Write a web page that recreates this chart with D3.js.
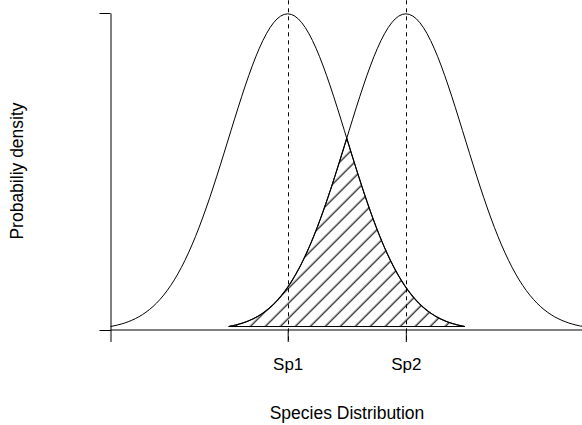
<!DOCTYPE html>
<html>
<head>
<meta charset="utf-8">
<script src="https://cdn.jsdelivr.net/npm/d3@7"></script>
<style>
  body { margin: 0; background: #fff; }
  text { font-family: "Liberation Sans", Arial, sans-serif; fill: #000; }
</style>
</head>
<body>
<div id="chart"></div>
<script>
// Chart values
let species = ["Sp1", "Sp2"];
let speciesMean = [0, 2];
let speciesSd = [1, 1];
let xTicks = [-3, 0, 2];
let xTickLabels = ["", "Sp1", "Sp2"];
let yTicks = [0, 0.4];

let w = 582;
let h = 425;

// normal density, what the curves show
let dnorm = (x, m, s) => Math.exp(-((x - m) * (x - m)) / (2 * s * s)) / (s * Math.sqrt(2 * Math.PI));

let xScale = d3.scaleLinear().domain([-3, 5]).range([110.5, 583]);
let yScale = d3.scaleLinear().domain([0, 0.4]).range([330, 13]);

let svg = d3.select("#chart").append("svg")
    .attr("width", w)
    .attr("height", h);

// hatching for the overlap
svg.append("defs").append("pattern")
    .attr("id", "hatch")
    .attr("patternUnits", "userSpaceOnUse")
    .attr("width", 10.6)
    .attr("height", 10.6)
    .attr("patternTransform", "rotate(45)")
    .append("line")
    .attr("x1", 5).attr("y1", -2)
    .attr("x2", 5).attr("y2", 13)
    .attr("stroke", "#000")
    .attr("stroke-width", 1.1);

let line = d3.line()
    .x(d => xScale(d[0]))
    .y(d => yScale(d[1]));

// each curve runs mean +/- 3 sd, 101 points like R's curve()
let curveData = species.map((s, i) => {
    let m = speciesMean[i], sd = speciesSd[i];
    return d3.range(101).map(k => {
        let x = m - 3 * sd + k * (6 * sd) / 100;
        return [x, dnorm(x, m, sd)];
    });
});

// overlap polygon: min of the two densities between the inner ends
let lo = speciesMean[1] - 3 * speciesSd[1];
let hi = speciesMean[0] + 3 * speciesSd[0];
let overlap = d3.range(201).map(k => {
    let x = lo + k * (hi - lo) / 200;
    return [x, Math.min(dnorm(x, speciesMean[0], speciesSd[0]), dnorm(x, speciesMean[1], speciesSd[1]))];
});

svg.append("path")
    .attr("d", line(overlap) + "Z")
    .attr("fill", "url(#hatch)")
    .attr("stroke", "#000")
    .attr("stroke-width", 1.1);

svg.selectAll(".curve")
    .data(curveData)
    .enter()
    .append("path")
    .classed("curve", true)
    .attr("d", line)
    .attr("fill", "none")
    .attr("stroke", "#000")
    .attr("stroke-width", 1);

// dashed lines at the means, across the plot region
svg.selectAll(".vline")
    .data(speciesMean)
    .enter()
    .append("line")
    .classed("vline", true)
    .attr("x1", d => Math.round(xScale(d)) + 0.5)
    .attr("x2", d => Math.round(xScale(d)) + 0.5)
    .attr("y1", yScale(0.416))
    .attr("y2", yScale(-0.016))
    .attr("stroke", "#000")
    .attr("stroke-dasharray", "4,4");

// x axis drawn at y = 0
let xAxis = d3.axisBottom(xScale)
    .tickValues(xTicks)
    .tickFormat((d, i) => xTickLabels[i])
    .tickSizeOuter(0)
    .tickSizeInner(12)
    .tickPadding(16);
let gx = svg.append("g")
    .attr("transform", "translate(0," + yScale(0) + ")")
    .call(xAxis);
gx.select(".domain").attr("d", "M" + xScale(-3) + ",0H" + w);
gx.selectAll(".tick line").attr("stroke", "#000");
gx.selectAll(".tick text")
    .attr("font-size", "17px")
    .attr("font-family", "Liberation Sans, Arial, sans-serif")
    .attr("fill", "#000");

// y axis, ticks at 0 and the top, no labels
let yAxis = d3.axisLeft(yScale)
    .tickValues(yTicks)
    .tickFormat("")
    .tickSizeOuter(0)
    .tickSizeInner(11);
svg.append("g")
    .attr("transform", "translate(110.5,0)")
    .call(yAxis);

svg.append("text")
    .text("Species Distribution")
    .attr("x", 347)
    .attr("y", 419)
    .attr("font-size", "17.5px")
    .attr("text-anchor", "middle");

svg.append("text")
    .text("Probabiliy density")
    .attr("transform", "translate(23,171) rotate(-90)")
    .attr("font-size", "17.5px")
    .attr("text-anchor", "middle");
</script>
</body>
</html>
